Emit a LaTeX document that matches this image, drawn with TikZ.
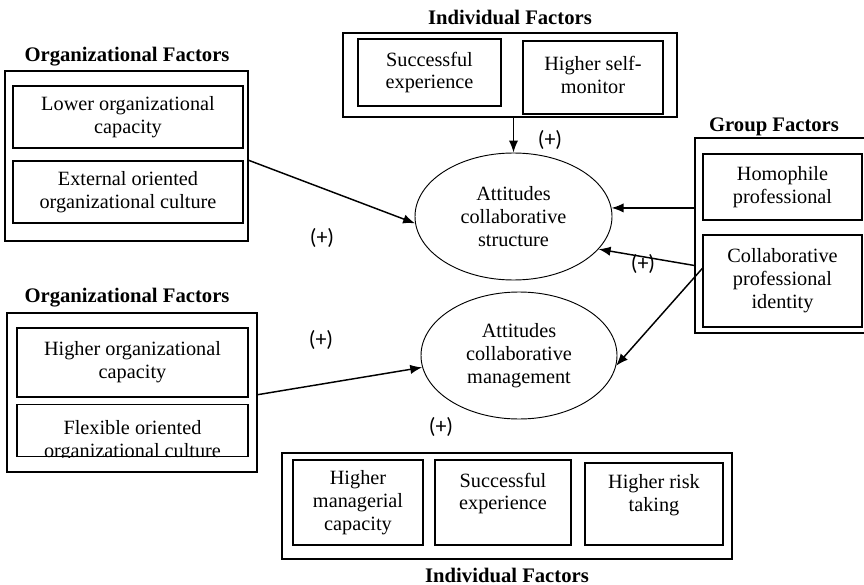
\documentclass[tikz,border=0pt]{standalone}
\usepackage{fontspec}
\setmainfont{Liberation Serif}
\newfontfamily\signfont{Carlito}
\usepackage{tikz}
\usetikzlibrary{shapes,arrows,arrows.meta}
\usetikzlibrary{positioning}

\begin{document}
\begin{tikzpicture}[x=0.75pt,y=-0.75pt,
    node distance = 0mm,
every node/.style = {inner sep=2pt, align=center,
                     font=\fontsize{15.2}{17.2}\selectfont},
      box/.style 2 args = {minimum width=#1*0.75pt, minimum height=#2*0.75pt},
   factor/.style = {draw, line width=0.9pt},
    outer/.style = {draw, line width=0.9pt},
    title/.style = {font=\fontsize{15.5}{17.2}\selectfont\bfseries},
 attitude/.style = {ellipse, draw, line width=0.7pt},
     sign/.style = {font=\fontsize{16.5}{18}\signfont},
     path/.style = {line width=1.1pt, -{Latex[length=9pt,width=7pt]}}]
\clip (0,0) rectangle (864,585);

% individual factors, top
\node[outer, box={334}{84}]  (indtop)      at (510,75) {};
\node[title]                 (indtoptitle) at (510,17) {Individual Factors};
\node[factor, box={143}{67}] (succtop)     at (429.5,72.5) {Successful\\experience};
\node[factor, box={140}{73}] (selfmon)     at (593,77.5) {};
\node                        (selfmontext) at (593,74.5) {Higher self-\\monitor};

% organizational factors, top
\node[outer, box={243}{170}] (orgtop)      at (126.5,156) {};
\node[title]                 (orgtoptitle) at (127,57) {Organizational Factors};
\node[factor, box={230}{62}] (lowcap)      at (128,117) {Lower organizational\\capacity};
\node[factor, box={230}{62}] (extcult)     at (128,192) {External oriented\\organizational culture};

% group factors
\node[outer, box={173}{195}] (grp)         at (781.5,235.5) {};
\node[title]                 (grptitle)    at (774,127) {Group Factors};
\node[factor, box={159}{66}] (homo)        at (782.5,187) {Homophile\\professional};
\node[factor, box={159}{92}] (collab)      at (782.5,281) {Collaborative\\professional\\identity};

% organizational factors, bottom
\node[outer, box={250}{159}] (orglow)      at (132,392.5) {};
\node[title]                 (orglowtitle) at (127,298) {Organizational Factors};
\node[factor, box={231}{69}] (highcap)     at (132.5,362.5) {Higher organizational\\capacity};
\node[factor, box={231}{52}] (flexcult)    at (132.5,430.5) {};
\begin{scope}
  \clip (17,404) rectangle (248,457);
  \node (flextext) at (132.5,441) {Flexible oriented\\organizational culture};
\end{scope}

% individual factors, bottom
\node[outer, box={450}{106}] (indlow)      at (507,506) {};
\node[title]                 (indlowtitle) at (507,575) {Individual Factors};
\node[factor, box={130}{85}] (mancap)      at (358,502.5) {Higher\\managerial\\capacity};
\node[factor, box={136}{85}] (succlow)     at (503,502.5) {};
\node                        (succlowtext) at (503,493.5) {Successful\\experience};
\node[factor, box={138}{82}] (risk)        at (654,504) {};
\node                        (risktext)    at (654,495) {Higher risk\\taking};

% attitudes
\node[attitude, box={197}{127}] (attstruct) at (513.5,216.5) {Attitudes\\collaborative\\structure};
\node[attitude, box={196}{127}] (attmanage) at (519,355.5) {Attitudes\\collaborative\\management};

% effects
\draw[path] (indtop.south -| attstruct.north) -- (attstruct.north);
\draw[path] (orgtop.-2) -- (attstruct.184);
\draw[path] (grp.west |- attstruct.5) -- (attstruct.5);
\draw[path] (grp.199) -- (attstruct.-21);
\draw[path] (collab.171) -- (attmanage.-6);
\draw[path] (orglow.-1) -- (attmanage.187);

\node[sign] (signind)  at (550,140) {(+)};
\node[sign] (signorg)  at (322,238) {(+)};
\node[sign] (signgrp)  at (643,264) {(+)};
\node[sign] (signorg2) at (321,340) {(+)};
\node[sign] (signind2) at (441,427) {(+)};
\end{tikzpicture}
\end{document}
